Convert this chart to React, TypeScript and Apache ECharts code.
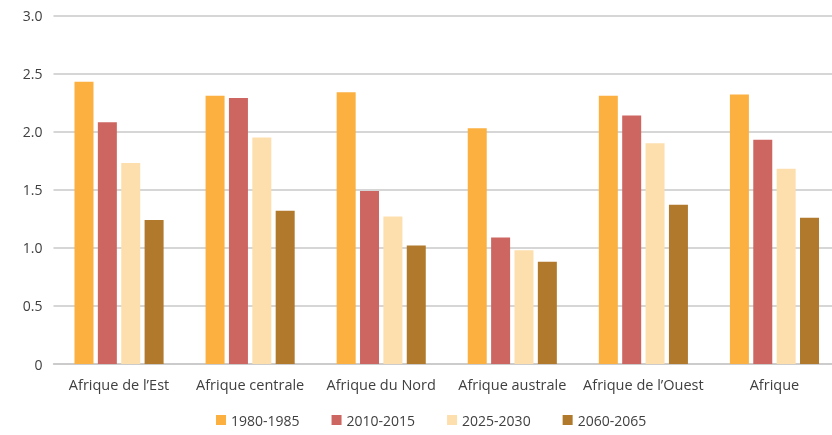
import React, { useEffect, useRef } from "react";
import * as echarts from "echarts";

const categories = ["Afrique de l’Est", "Afrique centrale", "Afrique du Nord", "Afrique australe", "Afrique de l’Ouest", "Afrique"];
const seriesNames = ["1980-1985", "2010-2015", "2025-2030", "2060-2065"];
const v1980 = [2.43, 2.31, 2.34, 2.03, 2.31, 2.32];
const v2010 = [2.08, 2.29, 1.49, 1.09, 2.14, 1.93];
const v2025 = [1.73, 1.95, 1.27, 0.98, 1.90, 1.68];
const v2060 = [1.24, 1.32, 1.02, 0.88, 1.37, 1.26];
const colors = ["#FBB040", "#CD6661", "#FDDFAE", "#B0792B"];

export default function App() {
  const ref = useRef<HTMLDivElement>(null);
  useEffect(() => {
    const chart = echarts.init(ref.current!, null, { renderer: "svg" });
    const data = [v1980, v2010, v2025, v2060];
    const font = "'Open Sans', 'Noto Sans', sans-serif";
    chart.setOption({
      animation: false,
      textStyle: { fontFamily: font },
      legend: {
        bottom: 3,
        left: 211,
        itemWidth: 10,
        itemHeight: 10,
        itemGap: 32,
        icon: "rect",
        textStyle: { fontSize: 14, color: "#404040", fontFamily: font },
        data: seriesNames,
      },
      grid: { left: 53.5, right: 0, top: 15.5, bottom: 71 },
      xAxis: {
        type: "category",
        data: categories,
        axisLine: { show: true, lineStyle: { color: "#c8c8c8", width: 1.5 } },
        axisTick: { show: false },
        axisLabel: { color: "#404040", fontSize: 14.5, margin: 13, interval: 0, fontFamily: font },
      },
      yAxis: {
        type: "value",
        min: 0,
        max: 3,
        interval: 0.5,
        axisLine: { show: false },
        axisTick: { show: false },
        axisLabel: {
          color: "#404040",
          fontSize: 14,
          margin: 11,
          fontFamily: font,
          formatter: (v: number) => (v === 0 ? "0" : v.toFixed(1)),
        },
        splitLine: { lineStyle: { color: "#c8c8c8", width: 1.5 } },
      },
      series: seriesNames.map((name, i) => ({
        name,
        type: "bar",
        data: data[i],
        barWidth: 19,
        barGap: "23%",
        itemStyle: { color: colors[i] },
      })),
    });
    return () => chart.dispose();
  }, []);
  return <div ref={ref} style={{ position: "fixed", left: 0, top: 0, width: 840, height: 435 }} />;
}
